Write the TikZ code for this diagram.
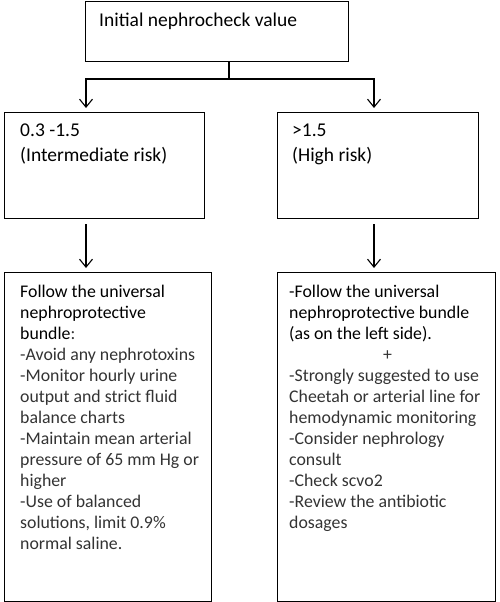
\documentclass[tikz,border=0pt]{standalone}
\usepackage{fontspec}
\setmainfont{Carlito}
\usetikzlibrary{arrows.meta,positioning,calc}
\tikzset{
  box/.style ={draw,line width=1.2pt,inner sep=0pt,anchor=north west},
  txt/.style ={anchor=north west,inner sep=0pt,align=left,
               font=\fontsize{17.8}{21}\selectfont,text=black!80},
  headtxt/.style={txt,font=\fontsize{19.5}{21}\selectfont,text=black},
  flow/.style={-{Straight Barb[length=8pt,width=13pt,line width=1.1pt]},line width=1.1pt},
  link/.style={line width=1.1pt},
}
\begin{document}
\begin{tikzpicture}[x=1pt,y=-1pt]
  \useasboundingbox (0,0) rectangle (500,602);
  % boxes
  \node[box,minimum width=263pt,minimum height=60.5pt] (start) at (85,0.6) {};
  \node[box,minimum width=200pt,minimum height=106pt]  (mid) at (4,112) {};
  \node[box,minimum width=201pt,minimum height=106pt]  (high) at (277,112) {};
  \node[box,minimum width=207pt,minimum height=328.5pt] (bundle) at (4,272) {};
  \node[box,minimum width=218pt,minimum height=328.5pt] (extra) at (277,272) {};
  % texts
  \node[headtxt,anchor=base west] (starttxt) at (99,27) {Initial nephrocheck value};
  \node[headtxt] (midtxt) at (20,123.5) {0.3 -1.5\\[4pt](Intermediate risk)};
  \node[headtxt] (hightxt) at (292,123.5) {>1.5\\[4pt](High risk)};
  \node[txt] (bundletxt) at (20,285) {\textcolor{black}{Follow the universal}\\
    \textcolor{black}{nephroprotective}\\
    \textcolor{black}{bundle}:\\
    -Avoid any nephrotoxins\\
    -Monitor hourly urine\\
    output and strict fluid\\
    balance charts\\
    -Maintain mean arterial\\
    pressure of 65 mm Hg or\\
    higher\\
    -Use of balanced\\
    solutions, limit 0.9\%\\
    normal saline.};
  \node[txt] (extratxt) at (289,285) {\textcolor{black}{-Follow the universal}\\
    \textcolor{black}{nephroprotective bundle}\\
    \textcolor{black}{(as on the left side).}\\
    \hspace*{94pt}+\\
    -Strongly suggested to use\\
    Cheetah or arterial line for\\
    hemodynamic monitoring\\
    -Consider nephrology\\
    consult\\
    -Check scvo2\\
    -Review the antibiotic\\
    dosages};
  % connectors
  \coordinate (split) at (229,79);
  \coordinate (lcol) at (86,0);
  \coordinate (rcol) at (374,0);
  \draw[link] (start.south -| split) -- (split);
  \draw[flow,shorten >=4pt] (split) -| (mid.north -| lcol);
  \draw[flow,shorten >=4pt] (split) -| (high.north -| rcol);
  \draw[flow,shorten <=5pt,shorten >=4pt] (mid.south -| lcol) -- (bundle.north -| lcol);
  \draw[flow,shorten <=5pt,shorten >=4pt] (high.south -| rcol) -- (extra.north -| rcol);
\end{tikzpicture}
\end{document}
